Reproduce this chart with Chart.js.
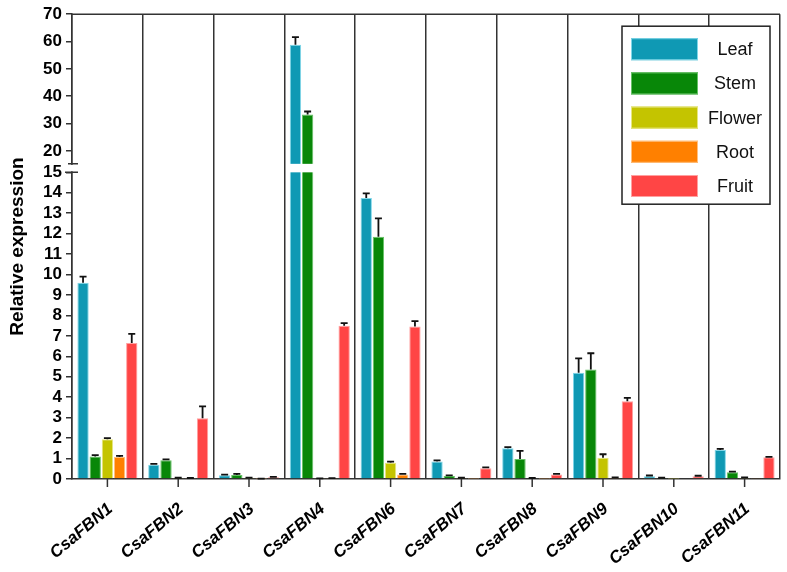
<!DOCTYPE html>
<html><head><meta charset="utf-8">
<script src="https://cdn.jsdelivr.net/npm/chart.js@4/dist/chart.umd.min.js"></script>
<style>html,body{margin:0;padding:0;background:#fff;}canvas{display:block;}</style>
</head><body>
<canvas id="c" width="787" height="572"></canvas>
<script>
const categories = ['CsaFBN1','CsaFBN2','CsaFBN3','CsaFBN4','CsaFBN6','CsaFBN7','CsaFBN8','CsaFBN9','CsaFBN10','CsaFBN11'];
const seriesNames = ['Leaf','Stem','Flower','Root','Fruit'];
const leaf      = [9.6, 0.7, 0.18, 58.8, 13.75, 0.86, 1.5, 5.2, 0.14, 1.42];
const leafErr   = [0.3, 0.04, 0.03, 2.8, 0.22, 0.05, 0.06, 0.7, 0.03, 0.05];
const stem      = [1.1, 0.92, 0.2, 33.3, 11.85, 0.15, 0.98, 5.35, 0.05, 0.33];
const stemErr   = [0.07, 0.04, 0.05, 1.1, 0.9, 0.03, 0.4, 0.8, 0.01, 0.03];
const flower    = [1.95, 0.05, 0.06, 0.02, 0.8, 0.05, 0.0, 1.04, 0.01, 0.05];
const flowerErr = [0.05, 0.01, 0.01, 0.01, 0.05, 0.01, 0.05, 0.17, 0.0, 0.03];
const root      = [1.08, 0.03, 0.01, 0.02, 0.22, 0.01, 0.01, 0.06, 0.0, 0.02];
const rootErr   = [0.05, 0.02, 0.01, 0.02, 0.03, 0.0, 0.0, 0.02, 0.0, 0.0];
const fruit     = [6.65, 2.97, 0.08, 7.5, 7.46, 0.52, 0.22, 3.8, 0.13, 1.06];
const fruitErr  = [0.45, 0.58, 0.02, 0.12, 0.26, 0.05, 0.03, 0.17, 0.03, 0.02];
const yTickValues = [0,1,2,3,4,5,6,7,8,9,10,11,12,13,14,15,20,30,40,50,60,70];
const colors = ['#0f99b4','#088708','#c4c400','#ff8000','#ff4545'];
const edgeColors = ['#7fd6e8','#66c266','#e6e680','#ffc080','#ffa0a0'];

// broken axis: 0-15 linear, gap, 20-70 compressed
const LOW_MAX = 15, HIGH_MIN = 20, GAP = 1.05, K = 0.1337;
function toDisplay(v){
  if (v <= LOW_MAX) return v;
  if (v >= HIGH_MIN) return LOW_MAX + GAP + (v - HIGH_MIN) * K;
  return LOW_MAX + (v - LOW_MAX) / (HIGH_MIN - LOW_MAX) * GAP;
}

const values = [leaf, stem, flower, root, fruit];
const errors = [leafErr, stemErr, flowerErr, rootErr, fruitErr];
const datasets = seriesNames.map((n,i)=>({
  label:n,
  data: values[i].map(toDisplay),
  raw: values[i],
  err: errors[i],
  backgroundColor: colors[i],
  borderColor: edgeColors[i],
  borderWidth: 1,
  categoryPercentage: 0.86,
  barPercentage: 0.93
}));

const FONT = 'Liberation Sans, Arial, sans-serif';

const decor = {
  id:'decor',
  afterDatasetsDraw(chart){
    const ctx = chart.ctx, y = chart.scales.y;
    ctx.save();
    ctx.strokeStyle = '#111'; ctx.lineWidth = 1.8;
    chart.data.datasets.forEach((ds,i)=>{
      const meta = chart.getDatasetMeta(i);
      meta.data.forEach((bar,j)=>{
        const e = ds.err[j];
        if (!e) return;
        const yTop = y.getPixelForValue(toDisplay(ds.raw[j] + e));
        ctx.beginPath();
        ctx.moveTo(bar.x, bar.y); ctx.lineTo(bar.x, yTop);
        ctx.moveTo(bar.x - 3.5, yTop); ctx.lineTo(bar.x + 3.5, yTop);
        ctx.stroke();
      });
    });
    // gap in bars crossing the break
    const yLow = y.getPixelForValue(LOW_MAX), yHigh = yLow - 8.5;
    ctx.fillStyle = '#fff';
    chart.data.datasets.forEach((ds,i)=>{
      const meta = chart.getDatasetMeta(i);
      meta.data.forEach((bar,j)=>{
        if (ds.raw[j] > LOW_MAX) ctx.fillRect(bar.x - bar.width/2 - 1, yHigh, bar.width + 2, yLow - yHigh);
      });
    });
    ctx.restore();
  },
  afterDraw(chart){
    const ctx = chart.ctx, ca = chart.chartArea, x = chart.scales.x, y = chart.scales.y;
    ctx.save();
    ctx.strokeStyle = '#333'; ctx.lineWidth = 1.5;
    // top frame line
    ctx.beginPath(); ctx.moveTo(ca.left, ca.top); ctx.lineTo(ca.right, ca.top); ctx.stroke();
    // center ticks on x axis
    ctx.beginPath();
    categories.forEach((c,i)=>{ const px = x.getPixelForValue(i); ctx.moveTo(px, ca.bottom); ctx.lineTo(px, ca.bottom + 8); });
    ctx.stroke();
    // axis break
    const yLow = y.getPixelForValue(LOW_MAX), yHigh = yLow - 8.5;
    ctx.fillStyle = '#fff';
    ctx.fillRect(ca.left - 2, yHigh + 1, 4, yLow - yHigh - 2);
    ctx.beginPath();
    ctx.moveTo(ca.left - 4, yHigh); ctx.lineTo(ca.left + 6, yHigh);
    ctx.moveTo(ca.left - 7, yLow); ctx.lineTo(ca.left + 6, yLow);
    ctx.stroke();
    // legend
    const bx = ca.right - 158, by = ca.top + 12, bw = 148, bh = 178;
    ctx.fillStyle = '#fff'; ctx.fillRect(bx, by, bw, bh);
    ctx.strokeStyle = '#222'; ctx.lineWidth = 1.5; ctx.strokeRect(bx, by, bw, bh);
    ctx.font = '18px ' + FONT; ctx.textAlign = 'center'; ctx.textBaseline = 'middle';
    chart.data.datasets.forEach((ds,i)=>{
      const cy = by + 23 + i * 34.2;
      ctx.fillStyle = ds.backgroundColor; ctx.fillRect(bx + 9, cy - 11, 67, 22);
      ctx.strokeStyle = ds.borderColor; ctx.lineWidth = 1; ctx.strokeRect(bx + 9.5, cy - 10.5, 66, 21);
      ctx.fillStyle = '#111'; ctx.fillText(ds.label, bx + 113, cy + 1);
    });
    ctx.restore();
  }
};

new Chart(document.getElementById('c'), {
  type:'bar',
  data:{ labels: categories, datasets },
  options:{
    responsive:false, animation:false, devicePixelRatio:1,
    layout:{ padding:{ left:6, right:7, top:13, bottom:0 } },
    plugins:{ legend:{display:false}, tooltip:{enabled:false} },
    scales:{
      x:{
        grid:{ offset:true, color:'#333', lineWidth:1.5, drawTicks:false },
        border:{ display:true, color:'#333', width:1.5 },
        ticks:{ font:{ family:FONT, size:17, weight:'bold', style:'italic' }, color:'#000', maxRotation:40, minRotation:40, padding:20, labelOffset:3, autoSkip:false },
        afterFit(s){ s.height = 93; }
      },
      y:{
        min:0, max: toDisplay(70),
        afterBuildTicks(s){ s.ticks = yTickValues.map(v=>({value: toDisplay(v)})); },
        ticks:{ autoSkip:false, callback:(v,i)=>yTickValues[i], font:{ family:FONT, size:17, weight:'bold' }, color:'#000', padding:4 },
        grid:{ drawOnChartArea:false, drawTicks:true, tickLength:6, color:'#333', lineWidth:1.5 },
        border:{ display:true, color:'#333', width:1.5 },
        title:{ display:true, text:'Relative expression', font:{ family:FONT, size:19, weight:'bold' }, color:'#000', padding:0 },
        afterFit(s){ s.width = 66; }
      }
    }
  },
  plugins:[decor]
});
</script>
</body></html>
